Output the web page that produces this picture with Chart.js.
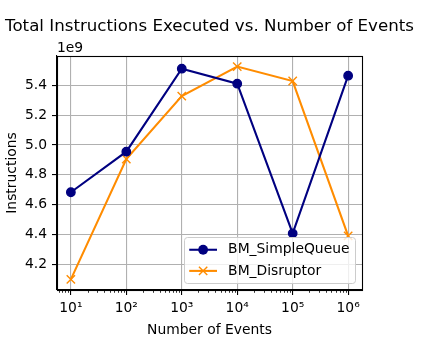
<!DOCTYPE html>
<html>
<head>
<meta charset="utf-8">
<script src="https://cdn.jsdelivr.net/npm/chart.js@4/dist/chart.umd.min.js"></script>
<style>
html,body{margin:0;padding:0;background:#fff;}
#wrap{width:425px;height:354px;position:relative;}
</style>
</head>
<body>
<div id="wrap"><canvas id="c" width="425" height="354"></canvas></div>
<script>
// ---- data ----
const events = [10, 100, 1000, 10000, 100000, 1000000];
const simpleQueue = [4.683e9, 4.955e9, 5.512e9, 5.411e9, 4.407e9, 5.465e9];
const disruptor = [4.098e9, 4.906e9, 5.328e9, 5.526e9, 5.429e9, 4.390e9];
const seriesNames = ['BM_SimpleQueue', 'BM_Disruptor'];
const xTicks = [10, 100, 1000, 10000, 100000, 1000000];
const yTicks = [4.2e9, 4.4e9, 4.6e9, 4.8e9, 5.0e9, 5.2e9, 5.4e9];
const titleText = 'Total Instructions Executed vs. Number of Events';
const xLabel = 'Number of Events';
const yLabel = 'Instructions';
const offsetText = '1e9';

const FONT = 'DejaVu Sans';
const SUP = {'0':'\u2070','1':'\u00b9','2':'\u00b2','3':'\u00b3','4':'\u2074','5':'\u2075','6':'\u2076','7':'\u2077','8':'\u2078','9':'\u2079'};

const framePlugin = {
  id: 'frame',
  afterDatasetsDraw(chart) {
    const ctx = chart.ctx, a = chart.chartArea;
    ctx.save();
    // minor ticks on log x axis
    const xs = chart.scales.x;
    ctx.strokeStyle = '#000';
    ctx.lineWidth = 0.8;
    for (let n = 0; n <= 6; n++) {
      for (let k = 2; k <= 9; k++) {
        const v = k * Math.pow(10, n);
        if (v < xs.min || v > xs.max) continue;
        const px = Math.round(xs.getPixelForValue(v)) + 0.5;
        ctx.beginPath(); ctx.moveTo(px, a.bottom); ctx.lineTo(px, a.bottom + 2.8); ctx.stroke();
      }
    }
    // frame
    ctx.lineWidth = 1.1;
    ctx.strokeStyle = '#000';
    ctx.strokeRect(Math.round(a.left) + 0.5, Math.round(a.top) + 0.5, Math.round(a.right - a.left), Math.round(a.bottom - a.top));
    // title centred over the axes
    ctx.fillStyle = '#000';
    ctx.font = '16.67px "' + FONT + '"';
    ctx.textAlign = 'center';
    ctx.textBaseline = 'middle';
    ctx.fillText(titleText, (a.left + a.right) / 2, 27);
    // offset text
    ctx.font = '13.89px "' + FONT + '"';
    ctx.textAlign = 'left';
    ctx.textBaseline = 'alphabetic';
    ctx.fillText(offsetText, a.left, a.top - 4);
    ctx.restore();
  },
  afterDraw(chart) {
    // legend, lower right inside axes
    const ctx = chart.ctx, a = chart.chartArea;
    const fs = 13.89;
    ctx.save();
    ctx.font = fs + 'px "' + FONT + '"';
    const dsets = chart.data.datasets;
    let tw = 0;
    dsets.forEach(d => { tw = Math.max(tw, ctx.measureText(d.label).width); });
    const pad = 0.4 * fs, hl = 2 * fs, htp = 0.8 * fs, ls = 0.5 * fs, bap = 0.5 * fs;
    const rowH = 14.2;
    const w = pad + hl + htp + tw + pad;
    const h = pad * 2 + rowH * dsets.length + ls * (dsets.length - 1);
    const x0 = a.right - bap - w, y0 = a.bottom - bap - h;
    ctx.fillStyle = 'rgba(255,255,255,0.8)';
    ctx.strokeStyle = '#cccccc';
    ctx.lineWidth = 1;
    ctx.beginPath();
    ctx.roundRect(Math.round(x0) + 0.5, Math.round(y0) + 0.5, Math.round(w), Math.round(h), 3);
    ctx.fill(); ctx.stroke();
    dsets.forEach((d, i) => {
      const cy = y0 + pad + rowH / 2 + i * (rowH + ls) + 0.5;
      const hx = x0 + pad;
      ctx.strokeStyle = d.borderColor;
      ctx.lineWidth = d.borderWidth;
      ctx.beginPath(); ctx.moveTo(hx, cy); ctx.lineTo(hx + hl, cy); ctx.stroke();
      const mx = hx + hl / 2, r = d.pointRadius;
      if (d.pointStyle === 'circle') {
        ctx.fillStyle = d.pointBackgroundColor;
        ctx.beginPath(); ctx.arc(mx, cy, r + d.pointBorderWidth / 2, 0, Math.PI * 2); ctx.fill();
      } else {
        ctx.lineWidth = d.pointBorderWidth;
        ctx.strokeStyle = d.pointBorderColor;
        const q = r * Math.SQRT1_2;
        ctx.beginPath();
        ctx.moveTo(mx - q, cy - q); ctx.lineTo(mx + q, cy + q);
        ctx.moveTo(mx - q, cy + q); ctx.lineTo(mx + q, cy - q);
        ctx.stroke();
      }
      ctx.fillStyle = '#000';
      ctx.textAlign = 'left';
      ctx.textBaseline = 'middle';
      ctx.fillText(d.label, hx + hl + htp, cy);
    });
    ctx.restore();
  }
};

new Chart(document.getElementById('c'), {
  type: 'line',
  data: {
    datasets: [
      {
        label: seriesNames[0],
        data: events.map((e, i) => ({x: e, y: simpleQueue[i]})),
        borderColor: '#000080',
        backgroundColor: '#000080',
        pointBackgroundColor: '#000080',
        pointBorderColor: '#000080',
        borderWidth: 2.08,
        pointStyle: 'circle',
        pointRadius: 4.2,
        pointBorderWidth: 1.4,
        pointHoverRadius: 4.2,
        tension: 0,
        fill: false
      },
      {
        label: seriesNames[1],
        data: events.map((e, i) => ({x: e, y: disruptor[i]})),
        borderColor: '#ff8c00',
        backgroundColor: '#ff8c00',
        pointBackgroundColor: '#ff8c00',
        pointBorderColor: '#ff8c00',
        borderWidth: 2.08,
        pointStyle: 'crossRot',
        pointRadius: 5.9,
        pointBorderWidth: 1.4,
        pointHoverRadius: 5.9,
        tension: 0,
        fill: false
      }
    ]
  },
  options: {
    responsive: false,
    animation: false,
    devicePixelRatio: 1,
    layout: {padding: {left: 0, right: 63, top: 56, bottom: 0}},
    plugins: {
      legend: {display: false},
      tooltip: {enabled: false},
      title: {display: false}
    },
    scales: {
      x: {
        type: 'logarithmic',
        min: Math.pow(10, 0.75),
        max: Math.pow(10, 6.25),
        afterBuildTicks: s => { s.ticks = xTicks.map(v => ({value: v})); },
        afterFit: s => { s.height = 64; },
        ticks: {
          color: '#000',
          font: {family: FONT, size: 13.89},
          padding: 5,
          maxRotation: 0,
          autoSkip: false,
          callback: v => '10' + String(Math.round(Math.log10(v))).split('').map(c => SUP[c]).join('')
        },
        grid: {color: '#b0b0b0', lineWidth: 1.1, tickColor: '#000', tickLength: 5, drawTicks: true},
        border: {display: true, color: '#000', width: 1.1},
        title: {
          display: true, text: xLabel, color: '#000',
          font: {family: FONT, size: 13.89}, padding: {top: 0, bottom: 15.5}
        }
      },
      y: {
        type: 'linear',
        min: 4.027e9,
        max: 5.597e9,
        afterBuildTicks: s => { s.ticks = yTicks.map(v => ({value: v})); },
        afterFit: s => { s.width = 57; },
        ticks: {
          color: '#000',
          font: {family: FONT, size: 13.89},
          padding: 5,
          callback: v => (v / 1e9).toFixed(1)
        },
        grid: {color: '#b0b0b0', lineWidth: 1.1, tickColor: '#000', tickLength: 5, drawTicks: true},
        border: {display: true, color: '#000', width: 1.1},
        title: {
          display: true, text: yLabel, color: '#000',
          font: {family: FONT, size: 13.89}, padding: {top: 4, bottom: 0}
        }
      }
    }
  },
  plugins: [framePlugin]
});
</script>
</body>
</html>
